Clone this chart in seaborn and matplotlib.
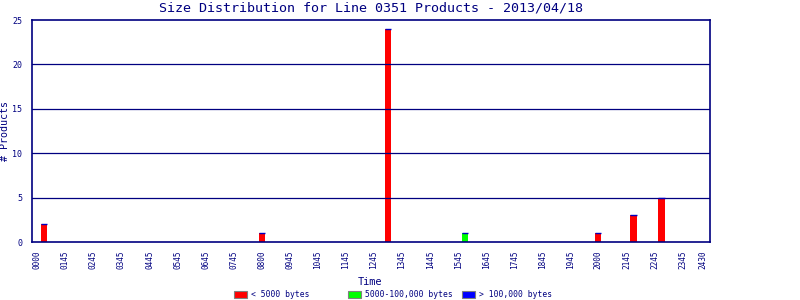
import matplotlib
matplotlib.use("Agg")
import matplotlib.pyplot as plt
import matplotlib.patches as mpatches
import seaborn as sns
import pandas as pd

# ---- data ----
tick_labels = ["0000", "0145", "0245", "0345", "0445", "0545", "0645", "0745",
               "0800", "0945", "1045", "1145", "1245", "1345", "1445", "1545",
               "1645", "1745", "1845", "1945", "2000", "2145", "2245", "2345", "2430"]
tick_pos = list(range(24)) + [23.74]
times = [0.25, 8.0, 12.5, 15.25, 20.0, 21.25, 22.25]
small = [2, 1, 24, 0, 1, 3, 5]     # < 5000 bytes
medium = [0, 0, 0, 1, 0, 0, 0]     # 5000-100,000 bytes
large = [0, 0, 0, 0, 0, 0, 0]      # > 100,000 bytes
categories = ["< 5000 bytes", "5000-100,000 bytes", "> 100,000 bytes"]
colors = ["#ff0000", "#00ff00", "#0000ff"]
title = "Size Distribution for Line 0351 Products - 2013/04/18"

NAVY = "#000080"
MONO = "DejaVu Sans Mono"
BAR_W = 0.22

sns.set_theme(style="white")
plt.rcParams["font.family"] = [MONO, "DejaVu Sans"]

df = pd.DataFrame({"time": times, categories[0]: small,
                   categories[1]: medium, categories[2]: large})
long = df.melt(id_vars="time", var_name="size", value_name="count")
long = long[long["count"] > 0]

fig = plt.figure(figsize=(8, 3), dpi=100)
ax = fig.add_axes([0.04, 0.193, 0.8475, 0.74])

sns.barplot(data=long, x="time", y="count", hue="size", hue_order=categories,
            palette=colors, saturation=1, native_scale=True, dodge=False,
            width=0.21, linewidth=0, errorbar=None, legend=False, ax=ax)

# fix bar width and add thin navy cap on each bar
for p in ax.patches:
    h = p.get_height()
    if h > 0:
        c = p.get_x() + p.get_width() / 2
        p.set_x(c - BAR_W / 2)
        p.set_width(BAR_W)
        ax.hlines(p.get_y() + h, p.get_x(), p.get_x() + BAR_W,
                  color="#0000c0", linewidth=1.0, zorder=3)

ax.set_xlim(-0.19, 23.98)
ax.set_ylim(0, 25)
ax.set_yticks([0, 5, 10, 15, 20, 25])
ax.set_yticklabels(["0", "5", "10", "15", "20", "25"], fontsize=6, color=NAVY)
ax.set_xticks(tick_pos)
ax.set_xticklabels(tick_labels, rotation=90, fontsize=5.6, color=NAVY)
ax.tick_params(axis="both", length=0, pad=6)
ax.tick_params(axis="y", pad=7)

for y in [5, 10, 15, 20]:
    ax.axhline(y, color=NAVY, linewidth=0.9, zorder=1)
for s in ax.spines.values():
    s.set_color(NAVY)
    s.set_linewidth(1.2)
    s.set_visible(True)

ax.set_xlabel("Time", fontsize=7.4, color=NAVY)
ax.xaxis.set_label_coords(0.499, -0.155)
ax.set_ylabel("# Products", fontsize=7.2, color=NAVY)
ax.yaxis.set_label_coords(-0.032, 0.5)
fig.text(0.464, 0.995, title, ha="center", va="top", fontsize=9.6, color=NAVY)

for c, l, x0 in zip(colors, categories, [233, 347, 461]):
    h = mpatches.Patch(facecolor=c, edgecolor="#808080", linewidth=0.8, label=l)
    leg = fig.legend(handles=[h], loc="lower left", bbox_to_anchor=(x0 / 800, 0.0),
                     frameon=False, fontsize=5.8, handlelength=1.6,
                     handleheight=1.1, handletextpad=0.5, borderpad=0.1,
                     borderaxespad=0)
    for t in leg.get_texts():
        t.set_color(NAVY)

fig.savefig("out.png", dpi=100, facecolor="white")
